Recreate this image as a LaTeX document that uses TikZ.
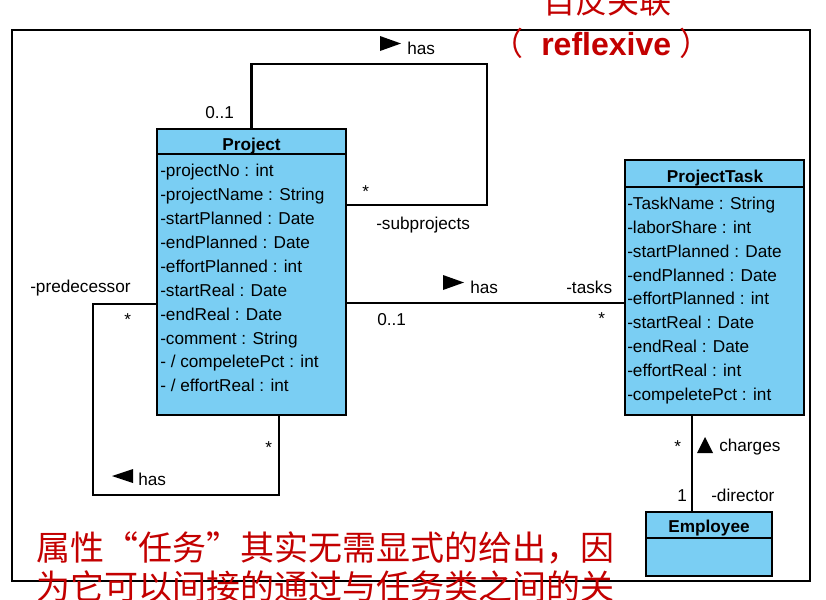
\documentclass[tikz,border=0pt]{standalone}
\usepackage{fontspec}
\setmainfont{Liberation Sans}
\newfontfamily\cjk{Noto Sans CJK SC}
\definecolor{umlblue}{RGB}{122,206,243}
\definecolor{notered}{RGB}{195,0,0}
\begin{document}
\begin{tikzpicture}[x=0.75pt,y=-0.75pt,
  classbox/.style={draw=black, fill=umlblue, line width=2pt, inner sep=0pt, outer sep=0pt, anchor=north west},
  conn/.style={line width=2pt},
  lbl/.style={anchor=base west, inner sep=0pt, font=\fontsize{12.9}{14}\selectfont},
  hdr/.style={anchor=base, inner sep=0pt, font=\fontsize{12.9}{14}\selectfont\bfseries},
  redtxt/.style={text=notered, inner sep=0pt, font=\fontsize{24}{28}\selectfont\cjk}
]
\useasboundingbox (0,0) rectangle (826,600);
\clip (0,0) rectangle (826,600);
\fill[white] (0,0) rectangle (826,600);
% frame
\node[draw=black, line width=2.2pt, inner sep=0pt, outer sep=0pt, anchor=north west,
      minimum width=598.5pt, minimum height=413.25pt] (frame) at (12,30) {};
% classes
\node[classbox, minimum width=141.75pt, minimum height=214.5pt] (project) at (157,129) {};
\draw[conn] (project.west |- 0,154) -- (project.east |- 0,154);
\node[hdr] (projecttitle) at (251.5,150) {Project};
\foreach \t [count=\i from 0] in {-projectNo : int,-projectName : String,-startPlanned : Date,-endPlanned : Date,-effortPlanned : int,-startReal : Date,-endReal : Date,-comment : String,- / compeletePct : int,- / effortReal : int}
  \node[lbl] (pa\i) at (160,176.7+23.9*\i) {\t};

\node[classbox, minimum width=134.25pt, minimum height=191.25pt] (task) at (625,160) {};
\draw[conn] (task.west |- 0,187) -- (task.east |- 0,187);
\node[hdr] (tasktitle) at (715,182.7) {ProjectTask};
\foreach \t [count=\i from 0] in {-TaskName : String,-laborShare : int,-startPlanned : Date,-endPlanned : Date,-effortPlanned : int,-startReal : Date,-endReal : Date,-effortReal : int,-compeletePct : int}
  \node[lbl] (ta\i) at (627,209.3+23.9*\i) {\t};

\node[classbox, minimum width=94.5pt, minimum height=48pt] (employee) at (646,512) {};
\draw[conn] (employee.west |- 0,538) -- (employee.east |- 0,538);
\node[hdr] (emptitle) at (709,532) {Employee};

% connectors
\coordinate (topr) at (487,64);
\draw[conn] (project.north) |- (topr) |- (project.east |- 0,205);
\draw[conn] (project.east |- 0,303) -- (task.west |- 0,303);
\coordinate (botl) at (93,495);
\draw[conn] (project.west |- 0,304) -| (botl) -| (project.south -| 279,0);
\draw[conn] (task.south -| 692,0) -- (employee.north -| 692,0);

% labels
\node[lbl] (l01a) at (205,118) {0..1};
\fill (380,36) -- (401,43.5) -- (380,51) -- cycle;
\node[lbl] (hasa) at (407,54) {has};
\node[lbl] (sta) at (362,197) {*};
\node[lbl] (subp) at (376,229) {-subprojects};
\fill (443,275) -- (464,282.5) -- (443,290) -- cycle;
\node[lbl] (hasb) at (470,293) {has};
\node[lbl] (tasks) at (566,293) {-tasks};
\node[lbl] (l01b) at (377,325) {0..1};
\node[lbl] (stb) at (598,324) {*};
\node[lbl] (pred) at (30,292) {-predecessor};
\node[lbl] (stc) at (124,325) {*};
\node[lbl] (std) at (265,453) {*};
\fill (133,469) -- (112,476) -- (133,483) -- cycle;
\node[lbl] (hasc) at (138,485) {has};
\node[lbl] (ste) at (674,452) {*};
\fill (697,453) -- (705,437) -- (713,453) -- cycle;
\node[lbl] (charges) at (719,451) {charges};
\node[lbl] (one) at (677,501) {1};
\node[lbl] (director) at (711,501) {-director};

% red notes
\node[redtxt] (t1) at (607,1) {自反关联};
\node[redtxt, anchor=west] (t2) at (491,43) {（\hspace{13.5pt}{\normalfont\bfseries reflexive}\hspace{6pt}）};
\node[redtxt, anchor=west, font=\fontsize{25.5}{28}\selectfont\cjk] (n1) at (36,548) {属性“任务”其实无需显式的给出，因};
\node[redtxt, anchor=west, font=\fontsize{25.5}{28}\selectfont\cjk] (n2) at (36,587) {为它可以间接的通过与任务类之间的关};
\end{tikzpicture}
\end{document}
